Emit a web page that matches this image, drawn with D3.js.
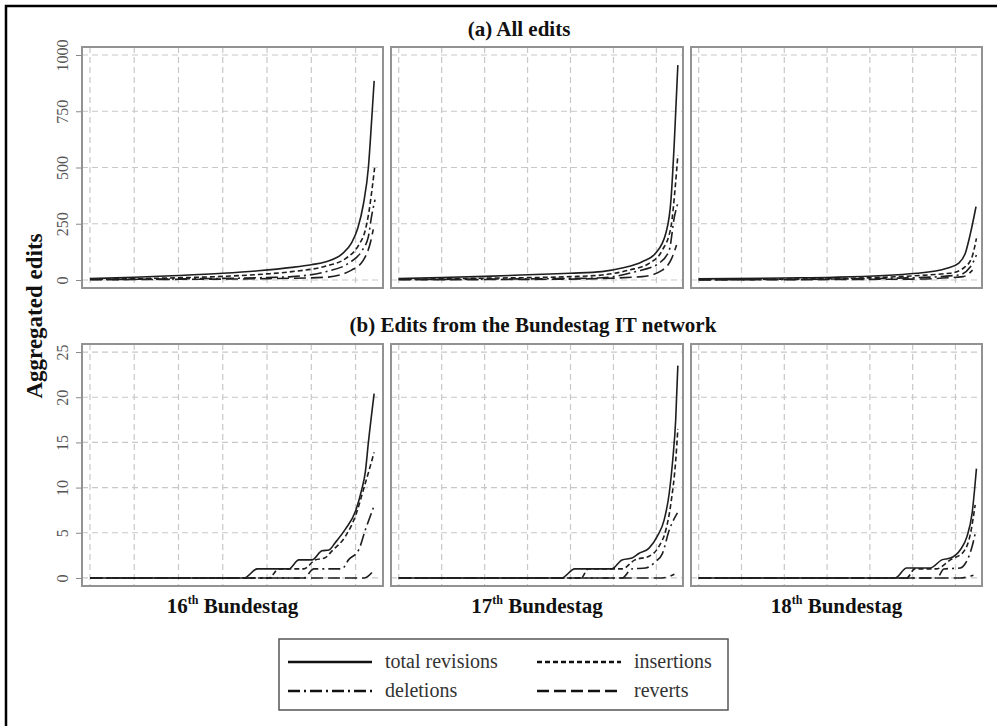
<!DOCTYPE html>
<meta charset="utf-8">
<style>

body {
  margin: 0;
  overflow: hidden;
  background: #fff;
}

svg {
  display: block;
}

svg text {
  font-family: "Liberation Serif", "DejaVu Serif", serif;
}

.grid line {
  stroke: #c8c8c8;
  stroke-width: 1.2px;
  stroke-dasharray: 6,4;
}

.frame {
  fill: none;
  stroke: #929292;
  stroke-width: 2px;
}

.series {
  fill: none;
  stroke: #1e1e1e;
  stroke-width: 1.6px;
}

</style>
<body>
<script src="https://d3js.org/d3.v7.js"></script>
<script>

const width = 997;
const height = 726;

// legend names, in order of the series inside each panel
const seriesNames = ["total revisions", "insertions", "deletions", "reverts"];
const terms = ["16", "17", "18"];

const allTicks = [0, 250, 500, 750, 1000];
const itTicks = [0, 5, 10, 15, 20, 25];
const xGrid = [0, 1, 2, 3, 4, 5, 6];

// (a) all edits, one array per Bundestag: [total, insertions, deletions, reverts]
const all16 = [
  [[0,6],[1,12],[2,20],[3,30],[3.8,41],[4.56,56],[5,68],[5.33,81],[5.69,115],[5.91,165],[6.05,230],[6.18,340],[6.29,500],[6.37,730],[6.42,885]],
  [[0,3],[1,6],[2,10],[3,16],[4,27],[4.56,37],[5.33,62],[5.78,96],[6.07,155],[6.22,222],[6.3,300],[6.37,400],[6.43,498]],
  [[0,2],[2,5],[4,11],[4.56,15],[5.33,37],[5.84,74],[6.13,126],[6.29,193],[6.36,281],[6.44,357]],
  [[0,1],[2,3],[4,6],[5.33,12],[5.91,44],[6.18,89],[6.34,170],[6.4,225]]
];

const all17 = [
  [[0,6],[1,11],[2,16],[3,23],[4,30],[4.73,37],[5.2,53],[5.67,81],[5.98,119],[6.22,208],[6.34,356],[6.42,622],[6.5,955]],
  [[0,3],[2,8],[4,15],[4.73,22],[5.36,44],[5.83,74],[6.14,133],[6.34,237],[6.44,415],[6.5,555]],
  [[0,2],[2,4],[4,7],[4.73,10],[5.51,37],[6.06,74],[6.3,133],[6.42,281],[6.5,342]],
  [[0,1],[4,4],[5.67,15],[6.14,44],[6.34,89],[6.47,156]]
];

const all18 = [
  [[0,5],[2,9],[3.15,12],[5.1,30],[5.8,52],[6.07,74],[6.23,119],[6.35,207],[6.48,326]],
  [[0,2],[3,6],[5.88,30],[6.23,59],[6.39,104],[6.49,185]],
  [[0,1],[3,4],[5,10],[6.07,22],[6.35,59],[6.49,111]],
  [[0,0.5],[5,4],[6.18,15],[6.4,44]]
];

// (b) edits from the Bundestag IT network
const it16 = [
  [[0,0],[3.48,0],[3.78,1],[4.49,1],[4.72,2],[5.02,2],[5.24,3],[5.4,3.1],[5.54,3.9],[5.77,5.4],[6,7.4],[6.14,9.8],[6.22,11.7],[6.29,15],[6.42,20.4]],
  [[0,0],[4.04,0],[4.27,1],[4.83,1],[5.09,2],[5.3,2.2],[5.47,3],[5.77,4.6],[6,6.9],[6.18,9.8],[6.42,13.9]],
  [[0,0],[4.83,0],[5.06,1],[5.69,1],[5.84,2],[6.07,3.1],[6.22,5.3],[6.42,8]],
  [[0,0],[6.2,0],[6.42,0.9]]
];

const it17 = [
  [[0,0],[3.79,0],[4.1,1],[4.96,1],[5.2,2],[5.43,2.2],[5.59,2.7],[5.83,3.3],[6.02,4.6],[6.18,6.4],[6.3,9.4],[6.38,13],[6.45,17.5],[6.5,23.5]],
  [[0,0],[4.25,0],[4.41,1],[5.2,1],[5.5,2],[5.83,2.4],[6.06,3.5],[6.22,5.3],[6.34,8.3],[6.45,13],[6.5,16.5]],
  [[0,0],[5.2,0],[5.43,1],[5.75,1.1],[5.98,1.8],[6.14,2.7],[6.3,5.3],[6.49,7.2]],
  [[0,0],[6.14,0],[6.42,0.4]]
];

const it18 = [
  [[0,0],[4.59,0],[4.86,1.1],[5.41,1.1],[5.68,2],[5.88,2.2],[6.11,3.1],[6.27,4.6],[6.39,7.2],[6.49,12.1]],
  [[0,0],[4.86,0],[5.05,1],[5.55,1],[5.88,2],[6.19,2.9],[6.35,4.9],[6.46,8.1]],
  [[0,0],[5.57,0],[5.73,1],[6.11,1.1],[6.23,1.6],[6.39,3.5],[6.46,4.9]],
  [[0,0],[6.11,0],[6.42,0.3]]
];

const dashes = ["none", "5,3", "12,4,2,4", "12,5"];

const rows = [
  {title: "(a) All edits", titleX: 519, titleY: 36, top: 47, bottom: 288, ticks: allTicks, pad: 35.6, panels: [all16, all17, all18]},
  {title: "(b) Edits from the Bundestag IT network", titleX: 533, titleY: 332, top: 344, bottom: 586, ticks: itTicks, pad: 0.89, panels: [it16, it17, it18]}
];

const panelX = [[82, 383], [391, 683], [691, 982]];

const svg = d3.select("body").append("svg")
    .attr("width", width)
    .attr("height", height);

// outer black frame (cropped at right and bottom)
svg.append("rect")
    .attr("x", 6)
    .attr("y", 6)
    .attr("width", 1100)
    .attr("height", 800)
    .attr("fill", "none")
    .attr("stroke", "#000")
    .attr("stroke-width", 2.5);

rows.forEach(function(row) {

  const maxTick = d3.max(row.ticks);

  const yScale = d3.scaleLinear()
      .domain([-row.pad, maxTick + row.pad])
      .range([row.bottom, row.top]);

  svg.append("text")
      .attr("x", row.titleX)
      .attr("y", row.titleY)
      .attr("text-anchor", "middle")
      .attr("font-weight", "bold")
      .attr("font-size", 21)
      .attr("fill", "#111")
      .text(row.title);

  row.panels.forEach(function(series, p) {

    const xScale = d3.scaleLinear()
        .domain([-0.18, 6.62])
        .range(panelX[p]);

    const g = svg.append("g");

    const grid = g.append("g").attr("class", "grid");

    grid.selectAll("line.h")
      .data(row.ticks)
      .enter()
      .append("line")
        .attr("x1", panelX[p][0])
        .attr("x2", panelX[p][1])
        .attr("y1", d => yScale(d))
        .attr("y2", d => yScale(d));

    grid.selectAll("line.v")
      .data(xGrid)
      .enter()
      .append("line")
        .attr("x1", d => xScale(d))
        .attr("x2", d => xScale(d))
        .attr("y1", row.top)
        .attr("y2", row.bottom);

    const line = d3.line()
        .x(d => xScale(d[0]))
        .y(d => yScale(d[1]))
        .curve(d3.curveMonotoneX);

    g.selectAll("path.series")
      .data(series)
      .enter()
      .append("path")
        .attr("class", "series")
        .attr("d", d => line(d))
        .attr("stroke-dasharray", (d, i) => dashes[i]);

    g.append("rect")
        .attr("class", "frame")
        .attr("x", panelX[p][0])
        .attr("y", row.top)
        .attr("width", panelX[p][1] - panelX[p][0])
        .attr("height", row.bottom - row.top);

    if (p === 0) {
      const yAxis = d3.axisLeft(yScale)
          .tickValues(row.ticks)
          .tickSize(5)
          .tickFormat(d3.format("d"));

      const ax = svg.append("g")
          .attr("transform", `translate(${panelX[0][0] - 1}, 0)`)
          .call(yAxis);

      ax.select(".domain").remove();
      ax.selectAll(".tick line").attr("stroke", "#888");
      ax.selectAll(".tick text")
          .attr("transform", "rotate(-90)")
          .attr("x", 0)
          .attr("y", -13)
          .attr("dy", 0)
          .attr("text-anchor", "middle")
          .attr("font-size", 16)
          .attr("fill", "#555");
    }
  });
});

// x labels under the bottom row
const xlab = svg.selectAll("text.term")
  .data(terms)
  .enter()
  .append("text")
    .attr("class", "term")
    .attr("x", (d, i) => (panelX[i][0] + panelX[i][1]) / 2)
    .attr("y", 613)
    .attr("text-anchor", "middle")
    .attr("font-weight", "bold")
    .attr("font-size", 21)
    .attr("fill", "#111");

xlab.append("tspan").text(d => d);
xlab.append("tspan").attr("font-size", 12).attr("dy", -9).text("th");
xlab.append("tspan").attr("dy", 9).text(" Bundestag");

// y label
svg.append("text")
    .attr("transform", "translate(42, 316) rotate(-90)")
    .attr("text-anchor", "middle")
    .attr("font-weight", "bold")
    .attr("font-size", 23)
    .attr("fill", "#111")
    .text("Aggregated edits");

// legend
const legend = svg.append("g");

legend.append("rect")
    .attr("x", 279)
    .attr("y", 639)
    .attr("width", 449)
    .attr("height", 71)
    .attr("fill", "#fff")
    .attr("stroke", "#555")
    .attr("stroke-width", 1.5);

const legendPos = [[288, 662], [537, 662], [288, 691], [537, 691]];

const items = legend.selectAll("g.item")
  .data(seriesNames)
  .enter()
  .append("g")
    .attr("class", "item")
    .attr("transform", (d, i) => `translate(${legendPos[i][0]}, ${legendPos[i][1]})`);

items.append("line")
    .attr("x1", 0)
    .attr("x2", 84)
    .attr("stroke", "#111")
    .attr("stroke-width", 2.4)
    .attr("stroke-dasharray", (d, i) => dashes[i]);

items.append("text")
    .attr("x", 97)
    .attr("y", 6)
    .attr("font-size", 20)
    .attr("fill", "#333")
    .text(d => d);

</script>
